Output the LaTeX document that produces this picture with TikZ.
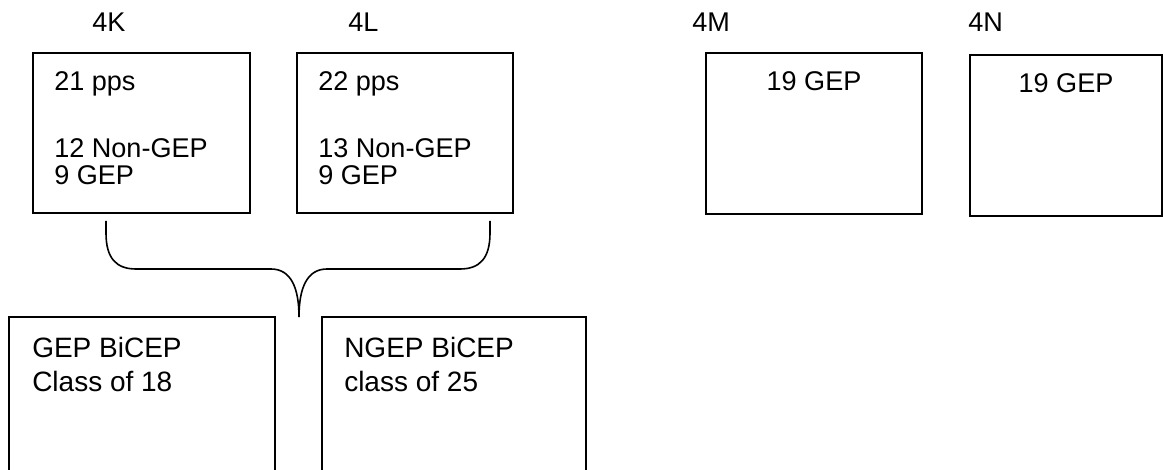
\documentclass[tikz,border=0pt]{standalone}
\usepackage{fontspec}
\setmainfont{Liberation Sans}
\begin{document}
\begin{tikzpicture}[x=0.75pt,y=-0.75pt,
		txt/.style={anchor=base west, inner sep=0pt, font=\fontsize{20.3}{24}\selectfont},
		ctxt/.style={txt, anchor=base},
		btxt/.style={txt, font=\fontsize{21}{25}\selectfont},
		box/.style={line width=1.1pt},
		brace/.style={line width=1.2pt}]
		\useasboundingbox (0,0) rectangle (1163,470);

		% class labels
		\node[txt] (lblK) at (92,32) {4K};
		\node[txt] (lblL) at (348,32) {4L};
		\node[txt] (lblM) at (692,32) {4M};
		\node[txt] (lblN) at (968,32) {4N};

		% 4K
		\draw[box] (33,53) coordinate (K-nw) rectangle (250,213) coordinate (K-se);
		\node[txt] (K1) at (54,91) {21 pps};
		\node[txt] (K2) at (54,158) {12 Non-GEP};
		\node[txt] (K3) at (54,185) {9 GEP};

		% 4L
		\draw[box] (297,53) coordinate (L-nw) rectangle (513,213) coordinate (L-se);
		\node[txt] (L1) at (318,91) {22 pps};
		\node[txt] (L2) at (318,158) {13 Non-GEP};
		\node[txt] (L3) at (318,185) {9 GEP};

		% 4M and 4N
		\draw[box] (706,53) coordinate (M-nw) rectangle (922,214) coordinate (M-se);
		\node[ctxt] (M1) at (814,91) {19 GEP};
		\draw[box] (970,55) coordinate (N-nw) rectangle (1162,216) coordinate (N-se);
		\node[ctxt] (N1) at (1066,93) {19 GEP};

		% brace joining 4K and 4L
		\coordinate (braceK) at (106,221);
		\coordinate (braceL) at (490,221);
		\coordinate (tip) at (299,317);
		\draw[brace] (braceK) -- (106,233)
			.. controls (106,258) and (116,269) .. (136,269) -- (271,269)
			.. controls (291,269) and (299,288) .. (tip);
		\draw[brace] (braceL) -- (490,233)
			.. controls (490,258) and (480,269) .. (460,269) -- (327,269)
			.. controls (307,269) and (299,288) .. (tip);

		% BiCEP classes
		\draw[box] (9,472) -- (9,317) coordinate (G-nw) -- (275,317) -- (275,472);
		\node[btxt] (G1) at (32,357) {GEP BiCEP};
		\node[btxt] (G2) at (32,391) {Class of 18};

		\draw[box] (322,472) -- (322,317) coordinate (NG-nw) -- (586,317) -- (586,472);
		\node[btxt] (NG1) at (344,357) {NGEP BiCEP};
		\node[btxt] (NG2) at (344,391) {class of 25};
\end{tikzpicture}
\end{document}
